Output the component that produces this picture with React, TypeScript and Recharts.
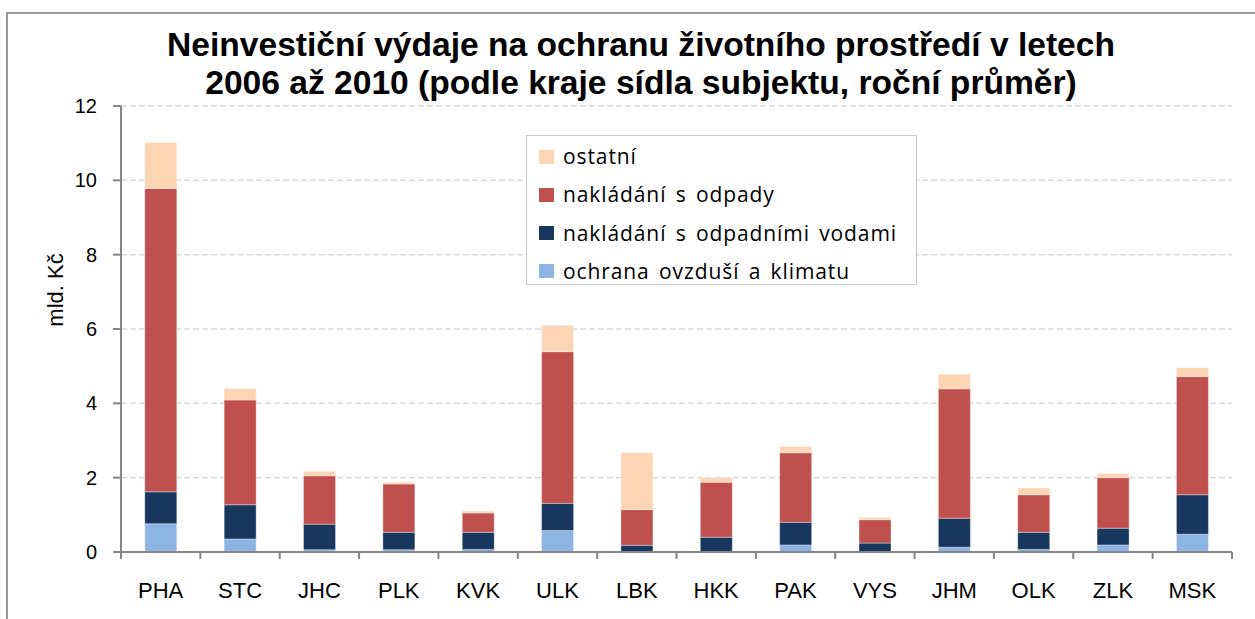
import React from 'react';
import { BarChart, Bar, XAxis, YAxis, CartesianGrid } from 'recharts';

const categories = ['PHA', 'STC', 'JHC', 'PLK', 'KVK', 'ULK', 'LBK', 'HKK', 'PAK', 'VYS', 'JHM', 'OLK', 'ZLK', 'MSK'];
const ovzdusi = [0.76, 0.35, 0.06, 0.06, 0.07, 0.58, 0.01, 0.01, 0.19, 0.01, 0.13, 0.07, 0.19, 0.48];
const vody = [0.86, 0.92, 0.69, 0.47, 0.46, 0.73, 0.17, 0.39, 0.61, 0.23, 0.78, 0.46, 0.45, 1.06];
const odpady = [8.16, 2.82, 1.30, 1.30, 0.52, 4.08, 0.96, 1.48, 1.87, 0.63, 3.48, 1.01, 1.36, 3.18];
const ostatni = [1.24, 0.31, 0.12, 0.05, 0.05, 0.71, 1.53, 0.12, 0.17, 0.06, 0.39, 0.18, 0.11, 0.24];
const yTicks = [0, 2, 4, 6, 8, 10, 12];

const seriesNames = {
  ostatni: 'ostatní',
  odpady: 'nakládání s odpady',
  vody: 'nakládání s odpadními vodami',
  ovzdusi: 'ochrana ovzduší a klimatu',
};
const colors = {
  ostatni: '#FCD5B5',
  odpady: '#C0504D',
  vody: '#17375E',
  ovzdusi: '#8EB4E3',
};
const legendOrder = ['ostatni', 'odpady', 'vody', 'ovzdusi'];

const data = categories.map((c, i) => ({
  name: c,
  ovzdusi: ovzdusi[i],
  vody: vody[i],
  odpady: odpady[i],
  ostatni: ostatni[i],
}));

const XTick = (props: any) => {
  const { x, y, payload, index } = props;
  const off = payload && payload.offset ? payload.offset : 39.68;
  return (
    <g>
      {index === 0 && <line x1={x - off} x2={x - off} y1={y} y2={y + 7} stroke="#868686" strokeWidth={2} />}
      <line x1={x + off} x2={x + off} y1={y} y2={y + 7} stroke="#868686" strokeWidth={2} />
      <text x={x} y={y + 46} textAnchor="middle" fontFamily="Liberation Sans, Arial, sans-serif" fontSize={22} fill="#000">
        {payload.value}
      </text>
    </g>
  );
};

const LegendBox = () => (
  <div
    style={{
      position: 'absolute',
      left: 526,
      top: 135,
      width: 391,
      height: 150,
      border: '1.5px solid #c8c8c8',
      background: '#fff',
      boxSizing: 'border-box',
    }}
  >
    {legendOrder.map((k, i) => (
      <div key={k} style={{ position: 'absolute', left: 12, top: 13 + i * 38.3, display: 'flex', alignItems: 'center', height: 15 }}>
        <div style={{ width: 15, height: 14, background: (colors as any)[k] }} />
        <span
          style={{
            marginLeft: 9,
            fontFamily: 'Open Sans, Lato, sans-serif',
            fontSize: 21,
            letterSpacing: 0.9,
            wordSpacing: 3,
            color: '#000',
            lineHeight: '15px',
            whiteSpace: 'nowrap',
          }}
        >
          {(seriesNames as any)[k]}
        </span>
      </div>
    ))}
  </div>
);

const YLabel = () => (
  <text x={63} y={290} transform="rotate(-90 63 290)" textAnchor="middle" fontFamily="Liberation Sans, Arial, sans-serif" fontSize={22} fill="#000">
    mld. Kč
  </text>
);

export default function App() {
  return (
    <div style={{ position: 'absolute', left: 0, top: 0, width: 1255, height: 619, overflow: 'hidden', background: '#fff' }}>
      <div
        style={{
          position: 'absolute',
          left: 6,
          top: 12,
          width: 1270,
          height: 640,
          border: '2px solid #999',
          boxSizing: 'border-box',
        }}
      />
      <div style={{ position: 'absolute', left: 0, top: 0 }}>
        <BarChart
          width={1255}
          height={619}
          data={data}
          margin={{ top: 106, right: 23, bottom: 7, left: 0 }}
          barCategoryGap="30%"
        >
          <CartesianGrid horizontal vertical={false} stroke="#d9d9d9" strokeWidth={1.5} strokeDasharray="6 3" />
          <XAxis
            dataKey="name"
            height={60}
            axisLine={{ stroke: '#868686', strokeWidth: 2 }}
            tickLine={false}
            tickSize={0}
            tickMargin={0}
            interval={0}
            tick={<XTick />}
          />
          <XAxis xAxisId="top" dataKey="name" orientation="top" height={0} tick={false} tickLine={false} axisLine={{ stroke: '#bfbfbf', strokeWidth: 1.5 }} />
          <YAxis
            width={121}
            domain={[0, 12]}
            ticks={yTicks}
            interval={0}
            axisLine={{ stroke: '#868686', strokeWidth: 2 }}
            tickLine={{ stroke: '#868686', strokeWidth: 2 }}
            tickSize={8}
            tickMargin={16}
            tick={{ fontFamily: 'Liberation Sans, Arial, sans-serif', fontSize: 20, fill: '#000' }}
            label={<YLabel />}
          />
          <YAxis yAxisId="right" orientation="right" width={0} domain={[0, 12]} tick={false} tickLine={false} axisLine={{ stroke: '#bfbfbf', strokeWidth: 2 }} />
          <Bar dataKey="ovzdusi" stackId="a" fill={colors.ovzdusi} stroke="rgba(255,255,255,0.35)" strokeWidth={1} isAnimationActive={false} name={seriesNames.ovzdusi} />
          <Bar dataKey="vody" stackId="a" fill={colors.vody} stroke="rgba(255,255,255,0.35)" strokeWidth={1} isAnimationActive={false} name={seriesNames.vody} />
          <Bar dataKey="odpady" stackId="a" fill={colors.odpady} stroke="rgba(255,255,255,0.35)" strokeWidth={1} isAnimationActive={false} name={seriesNames.odpady} />
          <Bar dataKey="ostatni" stackId="a" fill={colors.ostatni} stroke="rgba(255,255,255,0.35)" strokeWidth={1} isAnimationActive={false} name={seriesNames.ostatni} />
        </BarChart>
      </div>
      <LegendBox />
      <div
        style={{
          position: 'absolute',
          left: 0,
          top: 26,
          width: 1282,
          textAlign: 'center',
          fontFamily: 'Liberation Sans, Arial, sans-serif',
          fontWeight: 'bold',
          fontSize: 33.6,
          lineHeight: '38px',
          color: '#000',
        }}
      >
        <div>Neinvestiční výdaje na ochranu životního prostředí v letech</div>
        <div>2006 až 2010 (podle kraje sídla subjektu, roční průměr)</div>
      </div>
    </div>
  );
}
